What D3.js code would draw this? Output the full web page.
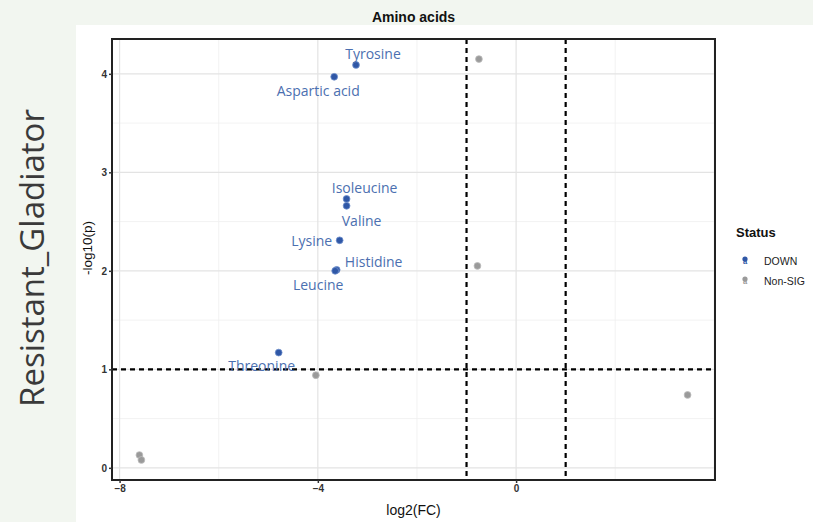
<!DOCTYPE html>
<html>
<head>
<meta charset="utf-8">
<script src="https://cdn.jsdelivr.net/npm/d3@7"></script>
<style>
  html, body { margin: 0; padding: 0; background: #f2f6f0; }
  svg { display: block; }
</style>
</head>
<body>
<svg id="chart" width="813" height="522"></svg>
<script>
// Significantly decreased amino acids (Status = DOWN)
const downNames = ["Tyrosine", "Aspartic acid", "Isoleucine", "Valine", "Lysine", "Histidine", "Leucine", "Threonine"];
const downFC    = [-3.23, -3.67, -3.42, -3.42, -3.56, -3.62, -3.65, -4.79];
const downLogP  = [4.09, 3.97, 2.73, 2.66, 2.31, 2.01, 2.00, 1.17];

// Remaining metabolites (Status = Non-SIG)
const nonsigFC   = [-0.75, -0.78, 3.46, -4.04, -7.60, -7.56];
const nonsigLogP = [4.15, 2.05, 0.74, 0.94, 0.13, 0.08];

// Axis tick labels and cut-off lines
const xTickLabels = [-8, -4, 0];
const yTickLabels = [0, 1, 2, 3, 4];
const fcCutoffs = [-1, 1];
const pCutoff = 1;

const statusLevels = ["DOWN", "Non-SIG"];

// Text placement of each label relative to its point (px)
const labelOffset = {
  "Tyrosine": [17, -11], "Aspartic acid": [-16, 14], "Isoleucine": [18, -11],
  "Valine": [15, 15], "Lysine": [-28, 0], "Histidine": [37, -8],
  "Leucine": [-17, 13.5], "Threonine": [-17, 13]
};

const colors = { "DOWN": "#2f57a6", "Non-SIG": "#9a9a9a" };
const labelColor = "#4b6fb0";

const svg = d3.select("#chart");

// white figure area
svg.append("rect").attr("x", 76).attr("y", 25).attr("width", 813 - 76).attr("height", 522 - 25)
  .attr("fill", "#ffffff");

const panel = { left: 112, right: 715, top: 39, bottom: 480 };

const allFC = downFC.concat(nonsigFC);
const allP = downLogP.concat(nonsigLogP);
function expand(ext) { const d = (ext[1] - ext[0]) * 0.05; return [ext[0] - d, ext[1] + d]; }

const x = d3.scaleLinear().domain(expand(d3.extent(allFC))).range([panel.left, panel.right]);
const y = d3.scaleLinear().domain(expand(d3.extent(allP))).range([panel.bottom, panel.top]);

const g = svg.append("g");

// grid
const xMinor = [-6, -2, 2];
const xMajor = [-8, -4, 0, 4].filter(v => x(v) <= panel.right && x(v) >= panel.left);
const yMinor = [0.5, 1.5, 2.5, 3.5];
g.selectAll(".gxm").data(xMinor).join("line")
  .attr("x1", d => x(d)).attr("x2", d => x(d)).attr("y1", panel.top).attr("y2", panel.bottom)
  .attr("stroke", "#efefef").attr("stroke-width", 0.8);
g.selectAll(".gym").data(yMinor).join("line")
  .attr("y1", d => y(d)).attr("y2", d => y(d)).attr("x1", panel.left).attr("x2", panel.right)
  .attr("stroke", "#efefef").attr("stroke-width", 0.8);
g.selectAll(".gxM").data(xMajor).join("line")
  .attr("x1", d => x(d)).attr("x2", d => x(d)).attr("y1", panel.top).attr("y2", panel.bottom)
  .attr("stroke", "#e3e3e3").attr("stroke-width", 1.2);
g.selectAll(".gyM").data(yTickLabels).join("line")
  .attr("y1", d => y(d)).attr("y2", d => y(d)).attr("x1", panel.left).attr("x2", panel.right)
  .attr("stroke", "#e3e3e3").attr("stroke-width", 1.2);

// cut-off lines
g.selectAll(".vcut").data(fcCutoffs).join("line")
  .attr("x1", d => x(d)).attr("x2", d => x(d)).attr("y1", panel.top).attr("y2", panel.bottom)
  .attr("stroke", "#000").attr("stroke-width", 2.2).attr("stroke-dasharray", "5,4");
g.append("line")
  .attr("x1", panel.left).attr("x2", panel.right).attr("y1", y(pCutoff)).attr("y2", y(pCutoff))
  .attr("stroke", "#000").attr("stroke-width", 2.2).attr("stroke-dasharray", "5,4");

// points
const nonsig = nonsigFC.map((v, i) => ({ fc: v, p: nonsigLogP[i] }));
const down = downFC.map((v, i) => ({ name: downNames[i], fc: v, p: downLogP[i] }));

g.selectAll(".ns").data(nonsig).join("circle")
  .attr("cx", d => x(d.fc)).attr("cy", d => y(d.p)).attr("r", 3.4)
  .attr("fill", colors["Non-SIG"]).attr("stroke", "#bdbdbd").attr("stroke-width", 0.8);
g.selectAll(".dn").data(down).join("circle")
  .attr("cx", d => x(d.fc)).attr("cy", d => y(d.p)).attr("r", 3.4)
  .attr("fill", colors["DOWN"]).attr("stroke", "#6f8fcc").attr("stroke-width", 0.8);

// labels
g.selectAll(".lab").data(down).join("text")
  .attr("x", d => x(d.fc) + labelOffset[d.name][0])
  .attr("y", d => y(d.p) + labelOffset[d.name][1])
  .attr("text-anchor", "middle").attr("dominant-baseline", "central")
  .attr("font-family", "Open Sans, sans-serif").attr("font-size", 14)
  .attr("fill", labelColor)
  .text(d => d.name);

// panel border
g.append("rect").attr("x", panel.left).attr("y", panel.top)
  .attr("width", panel.right - panel.left).attr("height", panel.bottom - panel.top)
  .attr("fill", "none").attr("stroke", "#222").attr("stroke-width", 2);

// axes
const xAxis = d3.axisBottom(x).tickValues(xTickLabels).tickSize(3).tickPadding(2).tickFormat(d3.format("d"));
const yAxis = d3.axisLeft(y).tickValues(yTickLabels).tickSize(3).tickPadding(2).tickFormat(d3.format("d"));
const gx = svg.append("g").attr("transform", `translate(0,${panel.bottom})`).call(xAxis);
const gy = svg.append("g").attr("transform", `translate(${panel.left},0)`).call(yAxis);
[gx, gy].forEach(a => {
  a.select(".domain").remove();
  a.selectAll(".tick line").attr("stroke", "#333").attr("stroke-width", 1.5);
  a.selectAll(".tick text").attr("fill", "#333").attr("font-family", "Liberation Sans, Arial, sans-serif")
    .attr("font-size", 10).attr("font-weight", "bold");
});

// titles
svg.append("text").attr("x", (panel.left + panel.right) / 2).attr("y", 22)
  .attr("text-anchor", "middle").attr("font-family", "Liberation Sans, Arial, sans-serif")
  .attr("font-weight", "bold").attr("font-size", 14).attr("fill", "#111").text("Amino acids");
svg.append("text").attr("x", (panel.left + panel.right) / 2).attr("y", 515)
  .attr("text-anchor", "middle").attr("font-family", "Liberation Sans, Arial, sans-serif")
  .attr("font-size", 14).attr("fill", "#111").text("log2(FC)");
svg.append("text").attr("transform", "translate(92,248) rotate(-90)")
  .attr("text-anchor", "middle").attr("font-family", "Liberation Sans, Arial, sans-serif")
  .attr("font-size", 13.5).attr("fill", "#111").text("-log10(p)");

// row label
svg.append("text").attr("transform", "translate(44,258) rotate(-90)")
  .attr("text-anchor", "middle").attr("font-family", "Open Sans, sans-serif")
  .attr("font-size", 33).attr("fill", "#3a3a3a").text("Resistant_Gladiator");

// legend
const lg = svg.append("g").attr("transform", "translate(736,0)");
lg.append("text").attr("x", 0).attr("y", 237).attr("font-family", "Liberation Sans, Arial, sans-serif")
  .attr("font-weight", "bold").attr("font-size", 13).attr("fill", "#111").text("Status");
statusLevels.forEach((s, i) => {
  const yy = 261 + i * 20;
  lg.append("circle").attr("cx", 9).attr("cy", yy - 2).attr("r", 2.6).attr("fill", colors[s]);
  lg.append("text").attr("x", 9).attr("y", yy + 3).attr("text-anchor", "middle")
    .attr("font-family", "Liberation Sans, Arial, sans-serif").attr("font-weight", "bold")
    .attr("font-size", 7.5).attr("fill", colors[s]).text("a");
  lg.append("text").attr("x", 28).attr("y", yy + 4).attr("font-family", "Liberation Sans, Arial, sans-serif")
    .attr("font-size", 10.5).attr("fill", "#222").text(s);
});
</script>
</body>
</html>
